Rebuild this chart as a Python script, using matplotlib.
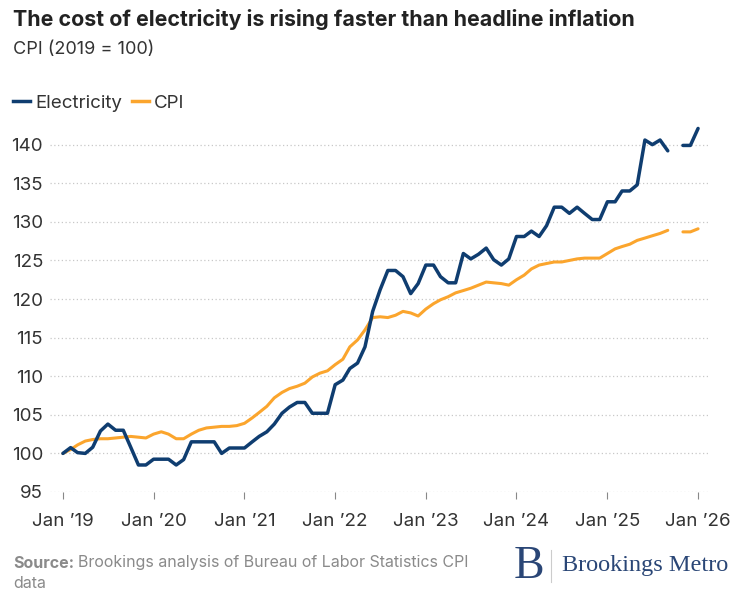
import numpy as np
import pandas as pd
import matplotlib
matplotlib.use("Agg")
import matplotlib.pyplot as plt
from matplotlib.lines import Line2D

# Monthly index, Jan 2019 .. Jan 2026 (Oct 2025 missing)
MONTHS = pd.date_range("2019-01-01", "2026-01-01", freq="MS")

ELECTRICITY = [
    # 2019
    100.0, 100.75, 100.1, 100.0, 100.8, 102.9, 103.8, 103.0, 103.0, 100.8, 98.5, 98.5,
    # 2020
    99.25, 99.25, 99.25, 98.5, 99.2, 101.5, 101.5, 101.5, 101.5, 100.0, 100.7, 100.7,
    # 2021
    100.7, 101.5, 102.2, 102.8, 103.8, 105.2, 106.0, 106.6, 106.6, 105.2, 105.2, 105.2,
    # 2022
    108.9, 109.5, 111.0, 111.7, 113.8, 118.4, 121.2, 123.7, 123.7, 122.9, 120.7, 122.0,
    # 2023
    124.4, 124.4, 122.9, 122.1, 122.1, 125.9, 125.2, 125.8, 126.6, 125.1, 124.4, 125.2,
    # 2024
    128.1, 128.1, 128.8, 128.1, 129.5, 131.9, 131.9, 131.1, 131.9, 131.1, 130.3, 130.3,
    # 2025
    132.6, 132.6, 134.0, 134.0, 134.8, 140.6, 140.0, 140.6, 139.2, np.nan, 139.9, 139.9,
    # 2026
    142.1,
]

CPI = [
    # 2019
    100.0, 100.5, 101.1, 101.6, 101.8, 101.9, 101.9, 102.0, 102.1, 102.2, 102.1, 102.0,
    # 2020
    102.5, 102.8, 102.5, 101.9, 101.9, 102.5, 103.0, 103.3, 103.4, 103.5, 103.5, 103.6,
    # 2021
    103.9, 104.6, 105.3, 106.1, 107.2, 107.9, 108.4, 108.7, 109.1, 109.9, 110.4, 110.7,
    # 2022
    111.5, 112.2, 113.8, 114.7, 116.0, 117.6, 117.7, 117.6, 117.9, 118.4, 118.2, 117.8,
    # 2023
    118.7, 119.4, 119.9, 120.3, 120.8, 121.1, 121.4, 121.8, 122.2, 122.1, 122.0, 121.8,
    # 2024
    122.5, 123.1, 123.9, 124.4, 124.6, 124.8, 124.8, 125.0, 125.2, 125.3, 125.3, 125.3,
    # 2025
    125.9, 126.5, 126.8, 127.1, 127.6, 127.9, 128.2, 128.5, 128.9, np.nan, 128.7, 128.7,
    # 2026
    129.1,
]

Y_TICKS = [95, 100, 105, 110, 115, 120, 125, 130, 135, 140]
X_TICKS = pd.date_range("2019-01-01", "2026-01-01", freq="YS")
X_LABELS = ["Jan \u201919", "Jan \u201920", "Jan \u201921", "Jan \u201922",
            "Jan \u201923", "Jan \u201924", "Jan \u201925", "Jan \u201926"]

ELEC_COLOR = "#0f3d70"
CPI_COLOR = "#fba52d"
TEXT = "#333333"
GREY = "#8a8a8a"
NAVY = "#2a4676"

plt.rcParams["font.family"] = ["Inter", "DejaVu Sans"]

W, H = 731, 593
fig = plt.figure(figsize=(W / 100, H / 100), dpi=100)

# axes placed in pixel terms: x 50..710, y 95 -> 492 px, 143 -> 121.5 px
ax = fig.add_axes([50 / W, (H - 492) / H, 660 / W, (492 - 121.5) / H])

ax.plot(MONTHS, ELECTRICITY, color=ELEC_COLOR, lw=2.5, solid_joinstyle="round",
        solid_capstyle="round", zorder=4)
ax.plot(MONTHS, CPI, color=CPI_COLOR, lw=2.2, solid_joinstyle="round",
        solid_capstyle="round", zorder=3)

ax.set_ylim(95, 143)
ax.set_xlim(MONTHS[0] - pd.Timedelta(days=52), MONTHS[-1] + pd.Timedelta(days=48))
ax.set_yticks(Y_TICKS)
ax.set_yticklabels([str(v) for v in Y_TICKS], fontsize=13.5, color=TEXT)
ax.set_xticks(X_TICKS)
ax.set_xticklabels(X_LABELS, fontsize=13.5, color=TEXT)

ax.grid(axis="y", color="#c8c8c8", lw=0.9, linestyle=(0, (1, 2)))
ax.set_axisbelow(True)
for s in ax.spines.values():
    s.set_visible(False)
ax.tick_params(axis="y", length=0, pad=5)
ax.tick_params(axis="x", length=5, width=0.8, color="#888888", pad=10, direction="out")

# titles
fig.text(13 / W, 1 - 20 / H, "The cost of electricity is rising faster than headline inflation",
         fontsize=15.4, fontweight="bold", color="#222222", va="center", ha="left")
fig.text(13 / W, 1 - 50 / H, "CPI (2019 = 100)", fontsize=13, color=TEXT,
         va="center", ha="left")

# legend
handles = [Line2D([0], [0], color=ELEC_COLOR, lw=2.5),
           Line2D([0], [0], color=CPI_COLOR, lw=2.5)]
fig.legend(handles, ["Electricity", "CPI"], loc="center left",
           bbox_to_anchor=(13 / W, 1 - 103 / H), ncol=2, frameon=False,
           borderpad=0, borderaxespad=0,
           fontsize=13.5, handlelength=0.9, handletextpad=0.27, columnspacing=0.55,
           labelcolor=TEXT)

# footer
src = fig.text(13 / W, 1 - 563 / H, "Source:", fontsize=11.5, fontweight="bold",
               color=GREY, va="center", ha="left")
fig.canvas.draw()
bb = src.get_window_extent()
fig.text(bb.x1 / W + 4 / W, 1 - 563 / H,
         "Brookings analysis of Bureau of Labor Statistics CPI",
         fontsize=11.5, color=GREY, va="center", ha="left")
fig.text(13 / W, 1 - 584 / H, "data", fontsize=11.5, color=GREY, va="center", ha="left")

# logo
fig.text(529 / W, 1 - 567 / H, "B", family="Liberation Serif", fontsize=33,
         color=NAVY, va="center", ha="center")
fig.add_artist(Line2D([551 / W, 551 / W], [1 - 550 / H, 1 - 582 / H],
                      color="#cccccc", lw=0.8))
fig.text(562 / W, 1 - 566 / H, "Brookings Metro", family="Liberation Serif",
         fontsize=17.5, color=NAVY, va="center", ha="left")

fig.savefig("out.png", dpi=100)
